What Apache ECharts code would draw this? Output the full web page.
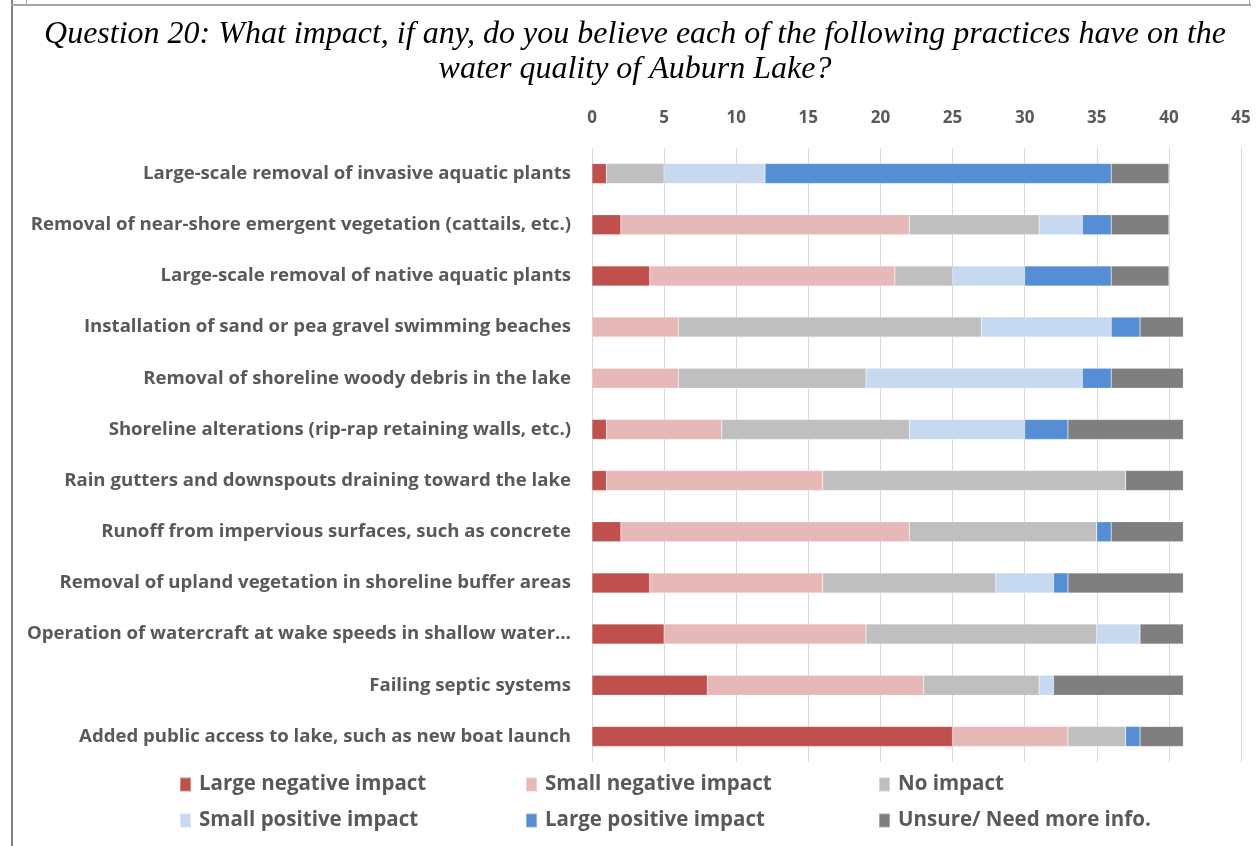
<!DOCTYPE html>
<html>
<head>
<meta charset="utf-8">
<script src="https://cdn.jsdelivr.net/npm/echarts@6/dist/echarts.min.js"></script>
<style>html,body{margin:0;padding:0;background:#fff;}#c{width:1256px;height:846px;}</style>
</head>
<body>
<div id="c"></div>
<script>
const categories = [
  'Large-scale removal of invasive aquatic plants',
  'Removal of near-shore emergent vegetation (cattails, etc.)',
  'Large-scale removal of native aquatic plants',
  'Installation of sand or pea gravel swimming beaches',
  'Removal of shoreline woody debris in the lake',
  'Shoreline alterations (rip-rap retaining walls, etc.)',
  'Rain gutters and downspouts draining toward the lake',
  'Runoff from impervious surfaces, such as concrete',
  'Removal of upland vegetation in shoreline buffer areas',
  'Operation of watercraft at wake speeds in shallow water\u2026',
  'Failing septic systems',
  'Added public access to lake, such as new boat launch'
];
const seriesNames = ['Large negative impact','Small negative impact','No impact','Small positive impact','Large positive impact','Unsure/ Need more info.'];
const largeNegative = [1, 2, 4, 0, 0, 1, 1, 2, 4, 5, 8, 25];
const smallNegative = [0, 20, 17, 6, 6, 8, 15, 20, 12, 14, 15, 8];
const noImpact      = [4, 9, 4, 21, 13, 13, 21, 13, 12, 16, 8, 4];
const smallPositive = [7, 3, 5, 9, 15, 8, 0, 0, 4, 3, 1, 0];
const largePositive = [24, 2, 6, 2, 2, 3, 0, 1, 1, 0, 0, 1];
const unsure        = [4, 4, 4, 3, 5, 8, 4, 5, 8, 3, 9, 3];
const xTicks = [0, 5, 10, 15, 20, 25, 30, 35, 40, 45];

const colors = ['#C0504D','#E6B9B8','#BFBFBF','#C6D9F1','#558ED5','#7F7F7F'];
const values = [largeNegative, smallNegative, noImpact, smallPositive, largePositive, unsure];

const chart = echarts.init(document.getElementById('c'), null, {renderer:'canvas'});
const legendPos = [[174,769],[520,769],[873,769],[174,805],[520,805],[873,805]];
const option = {
  animation: false,
  backgroundColor: '#fff',
  color: colors,
  grid: {left: 592, right: 15, top: 148, bottom: 84, containLabel: false},
  xAxis: {
    type: 'value', position: 'top', min: 0, max: 45, interval: 5,
    axisLine: {show: false}, axisTick: {show: false},
    splitLine: {show: true, lineStyle: {color: '#D9D9D9', width: 1}},
    axisLabel: {color: '#595959', fontFamily: 'Open Sans', fontWeight: 'bold', fontSize: 17, margin: 21,
      formatter: v => xTicks.includes(v) ? String(v) : ''}
  },
  yAxis: {
    type: 'category', inverse: true, data: categories,
    axisLine: {show: false}, axisTick: {show: false},
    axisLabel: {color: '#595959', fontFamily: 'Open Sans', fontWeight: 'bold', fontSize: 18.6, margin: 21}
  },
  legend: legendPos.map((p, i) => ({
    data: [seriesNames[i]], left: p[0], top: p[1],
    itemWidth: 11, itemHeight: 14, itemGap: 8, icon: 'rect',
    textStyle: {color: '#595959', fontFamily: 'Open Sans', fontWeight: 'bold', fontSize: 20.5, padding: [0,0,0,3]}
  })),
  series: seriesNames.map((name, i) => ({
    name: name, type: 'bar', stack: 'total', barWidth: 20,
    itemStyle: {color: colors[i], borderColor: 'rgba(255,255,255,0.35)', borderWidth: 0.5},
    data: values[i]
  })),
  graphic: [
    {type: 'text', x: 635, y: 17, style: {
      text: 'Question 20: What impact, if any, do you believe each of the following practices have on the\nwater quality of Auburn Lake?',
      font: 'italic 32px "Liberation Serif"', fill: '#000', textAlign: 'center', lineHeight: 35}},
    {type: 'rect', shape: {x: 11, y: 0, width: 2, height: 846}, style: {fill: '#808080'}},
    {type: 'rect', shape: {x: 11, y: 4, width: 1240, height: 2}, style: {fill: '#A6A6A6'}},
    {type: 'rect', shape: {x: 26, y: 0, width: 1, height: 5}, style: {fill: '#A6A6A6'}},
    {type: 'rect', shape: {x: 1249, y: 0, width: 1, height: 5}, style: {fill: '#A6A6A6'}}
  ]
};
chart.setOption(option);
</script>
</body>
</html>
